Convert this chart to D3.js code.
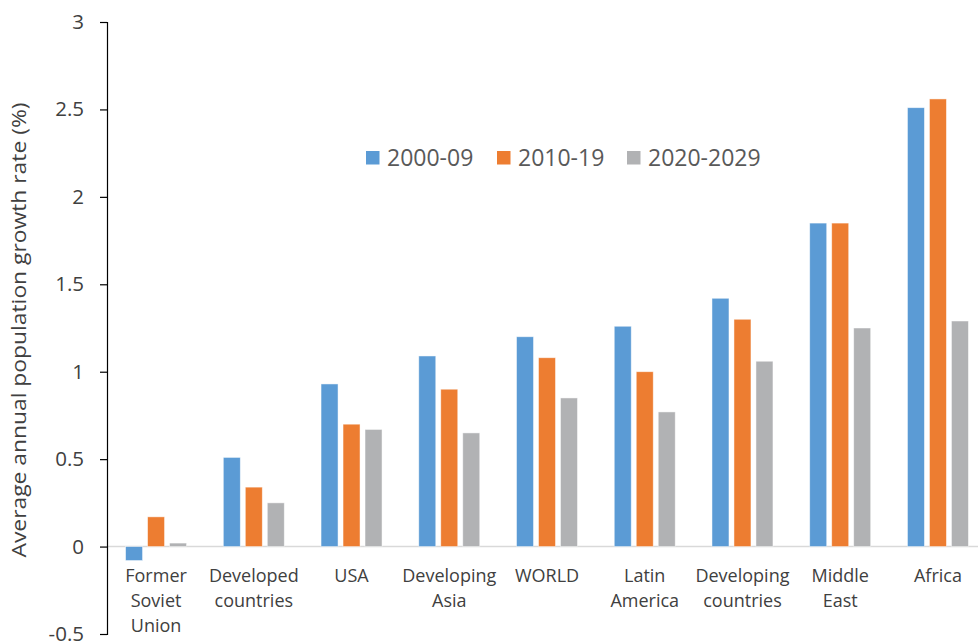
<!DOCTYPE html>
<html>
<head>
<meta charset="utf-8">
<script src="https://cdn.jsdelivr.net/npm/d3@7"></script>
<style>
  body { margin: 0; background: #fff; }
  svg { display: block; font-family: "Open Sans", sans-serif; }
</style>
</head>
<body>
<svg id="chart" width="978" height="644"></svg>
<script>
// ---- data ----
const categories = [
  ['Former', 'Soviet', 'Union'],
  ['Developed', 'countries'],
  ['USA'],
  ['Developing', 'Asia'],
  ['WORLD'],
  ['Latin', 'America'],
  ['Developing', 'countries'],
  ['Middle', 'East'],
  ['Africa'],
];
const seriesNames = ['2000-09', '2010-19', '2020-2029'];
const s2000 = [-0.08, 0.51, 0.93, 1.09, 1.20, 1.26, 1.42, 1.85, 2.51];
const s2010 = [ 0.17, 0.34, 0.70, 0.90, 1.08, 1.00, 1.30, 1.85, 2.56];
const s2020 = [ 0.02, 0.25, 0.67, 0.65, 0.85, 0.77, 1.06, 1.25, 1.29];
const yTicks = [-0.5, 0, 0.5, 1, 1.5, 2, 2.5, 3];
const colors = ['#5B9BD5', '#ED7D31', '#B1B2B4'];

const series = [s2000, s2010, s2020];

const svg = d3.select('#chart');
const m = { left: 107, right: 987, top: 22, bottom: 634 };

const x = d3.scaleBand()
  .domain(d3.range(categories.length))
  .range([m.left, m.right])
  .paddingInner(0.376)
  .paddingOuter(0.19);

const xs = d3.scaleBand()
  .domain(d3.range(series.length))
  .range([0, x.bandwidth()])
  .paddingInner(0.227);

const y = d3.scaleLinear().domain([-0.5, 3]).range([m.bottom, m.top]);

// zero line
svg.append('line')
  .attr('x1', m.left).attr('x2', 978)
  .attr('y1', y(0)).attr('y2', y(0))
  .attr('stroke', '#D9D9D9').attr('stroke-width', 1.5);

// bars
const groups = svg.append('g').selectAll('g')
  .data(series)
  .join('g')
    .attr('fill', (d, i) => colors[i]);

groups.each(function (vals, si) {
  d3.select(this).selectAll('rect')
    .data(vals)
    .join('rect')
      .attr('x', (v, ci) => x(ci) + xs(si))
      .attr('width', xs.bandwidth())
      .attr('y', v => y(Math.max(0, v)))
      .attr('height', v => Math.abs(y(v) - y(0)))
      .attr('stroke', '#fff')
      .attr('stroke-opacity', 0.6)
      .attr('stroke-width', 0.8);
});

// y axis (plain hyphen for the negative label, like the source)
const yAxis = d3.axisLeft(y)
  .tickValues(yTicks)
  .tickSize(7)
  .tickPadding(16)
  .tickFormat(d => String(d));

const yg = svg.append('g')
  .attr('transform', `translate(${m.left},0)`)
  .call(yAxis);
yg.select('.domain').attr('stroke', '#000').attr('stroke-width', 1.2);
yg.selectAll('.tick line').attr('stroke', '#000').attr('stroke-width', 1.2);
yg.selectAll('.tick text')
  .attr('fill', '#404040')
  .style('font-size', '20.5px')
  .style('font-family', '"Open Sans", sans-serif');

// category labels
svg.append('g').selectAll('text')
  .data(categories)
  .join('text')
    .attr('x', (d, i) => x(i) + x.bandwidth() / 2)
    .attr('y', 582)
    .attr('text-anchor', 'middle')
    .attr('fill', '#404040')
    .style('font-size', '18px')
    .selectAll('tspan')
    .data(d => d)
    .join('tspan')
      .attr('x', function () { return d3.select(this.parentNode).attr('x'); })
      .attr('dy', (d, i) => i === 0 ? 0 : 25)
      .text(d => d);

// y axis title
svg.append('text')
  .attr('transform', `translate(26,330) rotate(-90)`)
  .attr('text-anchor', 'middle')
  .attr('fill', '#404040')
  .attr('textLength', 455)
  .attr('lengthAdjust', 'spacingAndGlyphs')
  .style('font-size', '20px')
  .text('Average annual population growth rate (%)');

// legend
const legendItems = [
  { name: seriesNames[0], x: 366 },
  { name: seriesNames[1], x: 497 },
  { name: seriesNames[2], x: 627 },
];
const lg = svg.append('g').selectAll('g')
  .data(legendItems)
  .join('g')
    .attr('transform', d => `translate(${d.x},151)`);
lg.append('rect')
  .attr('width', 13.5).attr('height', 13.5)
  .attr('fill', (d, i) => colors[i]);
lg.append('text')
  .attr('x', 21).attr('y', 15)
  .attr('fill', '#595959')
  .style('font-size', '23px')
  .text(d => d.name);
</script>
</body>
</html>
